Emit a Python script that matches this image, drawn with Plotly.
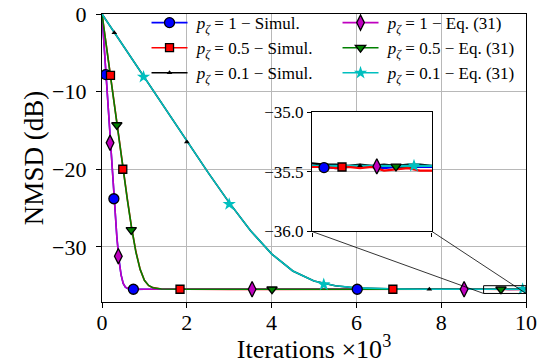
import plotly.graph_objects as go

# ---------------- data ----------------
# p_zeta = 1
x_p1 = [0, 0.05, 0.1, 0.15, 0.2, 0.25, 0.3, 0.35, 0.4, 0.45, 0.5, 0.55, 0.6, 0.7, 0.8, 1.0,
        2, 3, 4, 5, 6, 7, 8, 9.0, 9.1, 9.2, 9.3, 9.4, 9.5, 9.6, 9.7, 9.8, 9.9, 10.0]
sim_p1 = [0, -4.3, -8.5, -12.8, -17.0, -21.1, -25.0, -28.7, -31.6, -33.6, -34.7, -35.2, -35.35, -35.45, -35.47, -35.46,
          -35.45, -35.47, -35.46, -35.45, -35.47, -35.46, -35.45, -35.45, -35.46, -35.47, -35.46, -35.45, -35.46,
          -35.47, -35.46, -35.45, -35.46, -35.46]
eq_p1 = [0, -4.25, -8.5, -12.75, -17.0, -21.1, -25.1, -28.7, -31.7, -33.6, -34.7, -35.16, -35.34, -35.44, -35.46, -35.46,
         -35.46, -35.46, -35.46, -35.46, -35.46, -35.46, -35.46, -35.46, -35.46, -35.46, -35.46, -35.46, -35.46,
         -35.46, -35.46, -35.46, -35.46, -35.46]

# p_zeta = 0.5
x_p05 = [0, 0.1, 0.2, 0.3, 0.4, 0.5, 0.6, 0.7, 0.8, 0.9, 1.0, 1.1, 1.2, 1.4, 1.6,
         2, 3, 4, 5, 6, 7, 8, 9.0, 9.1, 9.2, 9.3, 9.4, 9.5, 9.6, 9.7, 9.8, 9.9, 10.0]
sim_p05 = [0, -4.1, -8.1, -12.2, -16.2, -20.1, -23.9, -27.6, -30.6, -32.9, -34.3, -35.0, -35.25, -35.43, -35.47,
           -35.46, -35.47, -35.45, -35.46, -35.47, -35.46, -35.46, -35.46, -35.46, -35.47, -35.46, -35.47, -35.46,
           -35.49, -35.48, -35.47, -35.49, -35.49]
eq_p05 = [0, -4.05, -8.1, -12.15, -16.2, -20.1, -24.0, -27.6, -30.7, -32.9, -34.3, -34.96, -35.26, -35.43, -35.46,
          -35.46, -35.46, -35.46, -35.46, -35.46, -35.46, -35.46, -35.46, -35.46, -35.46, -35.46, -35.46, -35.46,
          -35.46, -35.46, -35.46, -35.46, -35.46]

# p_zeta = 0.1
x_p01 = [0, 0.5, 1, 1.5, 2, 2.5, 3, 3.5, 4, 4.5, 5, 5.5, 6, 6.5, 7, 7.5, 8, 8.5,
         9.0, 9.1, 9.2, 9.3, 9.4, 9.5, 9.6, 9.7, 9.8, 9.9, 10.0]
sim_p01 = [0, -4.1, -8.2, -12.3, -16.4, -20.4, -24.3, -27.9, -30.9, -33.1, -34.4, -35.0, -35.3, -35.4, -35.43,
           -35.44, -35.45, -35.44, -35.43, -35.44, -35.44, -35.45, -35.44, -35.45, -35.44, -35.45, -35.44,
           -35.44, -35.45]
eq_p01 = [0, -4.1, -8.2, -12.3, -16.35, -20.4, -24.3, -27.9, -30.9, -33.1, -34.4, -35.0, -35.28, -35.39, -35.43,
          -35.45, -35.45, -35.45, -35.45, -35.45, -35.45, -35.45, -35.45, -35.45, -35.45, -35.45, -35.45,
          -35.45, -35.45]

# marker positions (main plot)
mk_sim_p1_x = [0.09, 0.28, 0.74, 6.02]
mk_sim_p1_y = [-7.8, -23.8, -35.46, -35.46]
mk_sim_p05_x = [0.2, 0.49, 1.84, 6.86]
mk_sim_p05_y = [-7.9, -20.0, -35.46, -35.46]
mk_sim_p01_x = [0.29, 2.0, 7.72]
mk_sim_p01_y = [-2.4, -16.5, -35.46]
mk_eq_p1_x = [0.19, 0.385, 3.54, 8.54]
mk_eq_p1_y = [-16.6, -31.2, -35.46, -35.46]
mk_eq_p05_x = [0.35, 0.69, 4.01, 9.41]
mk_eq_p05_y = [-14.3, -27.8, -35.46, -35.46]
mk_eq_p01_x = [0.98, 3.0, 5.23, 9.92]
mk_eq_p01_y = [-8.1, -24.5, -34.85, -35.45]

# marker positions (inset)
in_x = [9.1, 9.25, 9.4, 9.54, 9.7, 9.85]
in_y = [-35.465, -35.46, -35.45, -35.455, -35.455, -35.45]

NB = "\u00a0"
names = [NB + "<i>p</i><sub><i>ζ</i></sub> = 1 − Simul.",
         NB + "<i>p</i><sub><i>ζ</i></sub> = 0.5 − Simul.",
         NB + "<i>p</i><sub><i>ζ</i></sub> = 0.1 − Simul.",
         NB + "<i>p</i><sub><i>ζ</i></sub> = 1 − Eq. (31)",
         NB + "<i>p</i><sub><i>ζ</i></sub> = 0.5 − Eq. (31)",
         NB + "<i>p</i><sub><i>ζ</i></sub> = 0.1 − Eq. (31)"]

# ---------------- styles ----------------
FONT = "Liberation Serif"
BLUE, RED, BLACK = "#0000ff", "#ff0000", "#000000"
MAG, GREEN, CYAN = "#bf00bf", "#008000", "#00bfbf"

series = [
    # (x, y, colour, symbol, size, edge, mkx, mky, legend rank, inset marker idx)
    (x_p1, sim_p1, BLUE, "circle", 10, 1.3, mk_sim_p1_x, mk_sim_p1_y, 1, 0),
    (x_p05, sim_p05, RED, "square", 8, 1.3, mk_sim_p05_x, mk_sim_p05_y, 3, 1),
    (x_p01, sim_p01, BLACK, "triangle-up", 5, 0, mk_sim_p01_x, mk_sim_p01_y, 5, 2),
    (x_p1, eq_p1, MAG, "diamond-tall", 11, 1.3, mk_eq_p1_x, mk_eq_p1_y, 2, 3),
    (x_p05, eq_p05, GREEN, "triangle-down", 9, 1.3, mk_eq_p05_x, mk_eq_p05_y, 4, 4),
    (x_p01, eq_p01, CYAN, "star", 10, 0, mk_eq_p01_x, mk_eq_p01_y, 6, 5),
]

fig = go.Figure()


def marker(col, sym, size, edge):
    return dict(color=col, symbol=sym, size=size,
                line=dict(color="black", width=edge))


# main lines
for (x, y, col, sym, size, edge, mx, my, rank, ii), nm in zip(series, names):
    fig.add_trace(go.Scatter(x=x, y=y, mode="lines", line=dict(color=col, width=1.6),
                             showlegend=False, hoverinfo="skip"))
# main markers
for (x, y, col, sym, size, edge, mx, my, rank, ii), nm in zip(series, names):
    fig.add_trace(go.Scatter(x=mx, y=my, mode="markers", marker=marker(col, sym, size, edge),
                             showlegend=False, hoverinfo="skip"))
# legend entries
for (x, y, col, sym, size, edge, mx, my, rank, ii), nm in zip(series, names):
    fig.add_trace(go.Scatter(x=[None], y=[None], mode="lines+markers", name=nm,
                             line=dict(color=col, width=1.6), marker=marker(col, sym, size, edge),
                             legendrank=rank, showlegend=True))

# inset lines (drawing order chosen so red/cyan/black are on top as in the reference)
inset_order = [3, 4, 0, 2, 5, 1]
for k in inset_order:
    x, y, col, sym, size, edge, mx, my, rank, ii = series[k]
    fig.add_trace(go.Scatter(x=x, y=y, mode="lines", line=dict(color=col, width=2.2),
                             xaxis="x2", yaxis="y2", showlegend=False, hoverinfo="skip"))
for k in range(6):
    x, y, col, sym, size, edge, mx, my, rank, ii = series[k]
    fig.add_trace(go.Scatter(x=[in_x[ii]], y=[in_y[ii]], mode="markers",
                             marker=marker(col, sym, size, edge),
                             xaxis="x2", yaxis="y2", showlegend=False, hoverinfo="skip"))

# ---------------- layout ----------------
XR = [0, 10]
YR = [-37.1, 0]
IN_XR = [9, 10]
IN_YR = [-36, -35]
IN_XD = [0.4953, 0.7783]
IN_YD = [0.2448, 0.6597]


def to_paper_x(v):
    return (v - XR[0]) / (XR[1] - XR[0])


def to_paper_y(v):
    return (v - YR[0]) / (YR[1] - YR[0])


axis_common = dict(showline=True, linecolor="black", linewidth=1.2, mirror=True,
                   ticks="outside", ticklen=5, tickcolor="black", tickwidth=1,
                   zeroline=False, gridcolor="#b8b8b8", gridwidth=1, automargin=False,
                   tickfont=dict(family=FONT, size=22, color="black"))

fig.update_layout(
    width=541, height=364,
    margin=dict(l=102, r=15, t=14, b=62, autoexpand=False),
    paper_bgcolor="white", plot_bgcolor="white",
    font=dict(family=FONT, color="black"),
    xaxis=dict(range=XR, domain=[0, 1], tickvals=[0, 2, 4, 6, 8, 10], showgrid=True,
               title=dict(text="Iterations ×10<sup>3</sup>", font=dict(family=FONT, size=26), standoff=2),
               ticklabelstandoff=-5,
               **axis_common),
    yaxis=dict(range=YR, domain=[0, 1], tickvals=[0, -10, -20, -30], showgrid=True,
               title=dict(text="NMSD (dB)", font=dict(family=FONT, size=27), standoff=0),
               ticklabelstandoff=5,
               **axis_common),
    xaxis2=dict(range=IN_XR, domain=IN_XD, anchor="y2", tickvals=[9, 10], showticklabels=False,
                showgrid=False, showline=True, linecolor="black", linewidth=1.2, mirror=True,
                ticks="outside", ticklen=4, tickcolor="black", zeroline=False, automargin=False),
    yaxis2=dict(range=IN_YR, domain=IN_YD, anchor="x2", tickvals=[-36, -35.5, -35],
                ticktext=["−36.0", "−35.5", "−35.0"], showgrid=True, gridcolor="#b8b8b8",
                showline=True, linecolor="black", linewidth=1.2, mirror=True,
                ticks="outside", ticklen=4, tickcolor="black", zeroline=False, automargin=False,
                tickfont=dict(family=FONT, size=17, color="black")),
    legend=dict(orientation="h", x=0.105, y=1.031, xanchor="left", yanchor="top",
                bgcolor="rgba(0,0,0,0)", borderwidth=0, entrywidth=140, itemwidth=36,
                font=dict(family=FONT, size=17, color="black")),
    showlegend=True,
)

# zoom rectangle and connector lines
fig.add_shape(type="rect", xref="x", yref="y", x0=IN_XR[0], x1=IN_XR[1], y0=IN_YR[0], y1=IN_YR[1],
              line=dict(color="black", width=1), fillcolor="rgba(0,0,0,0)")
fig.add_shape(type="line", xref="paper", yref="paper", x0=IN_XD[0], y0=IN_YD[0],
              x1=to_paper_x(IN_XR[0]), y1=to_paper_y(IN_YR[0]), line=dict(color="black", width=0.8))
fig.add_shape(type="line", xref="paper", yref="paper", x0=IN_XD[1], y0=IN_YD[0],
              x1=to_paper_x(IN_XR[1]), y1=to_paper_y(IN_YR[0]), line=dict(color="black", width=0.8))

fig.write_html("out.html")
